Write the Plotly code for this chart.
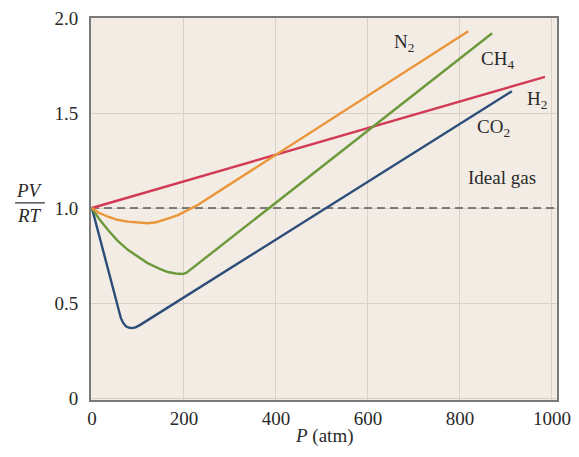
import plotly.graph_objects as go

# ---- data ----
co2_p = [0, 55, 63, 68, 74, 80, 87, 95, 105, 913]
co2_z = [1.0, 0.49, 0.42, 0.395, 0.378, 0.37, 0.368, 0.372, 0.385, 1.615]

ch4_p = [0, 15, 35, 55, 78, 100, 121, 145, 165, 182, 197, 205, 870]
ch4_z = [1.0, 0.945, 0.884, 0.83, 0.78, 0.742, 0.71, 0.682, 0.663, 0.655, 0.653, 0.658, 1.92]

n2_p = [0, 15, 35, 55, 78, 100, 121, 140, 158, 175, 187, 198, 208, 230, 818]
n2_z = [1.0, 0.975, 0.954, 0.938, 0.928, 0.922, 0.92, 0.925, 0.937, 0.952, 0.963, 0.976, 0.99, 1.016, 1.93]

h2_p = [0, 985]
h2_z = [1.0, 1.69]

ideal_p = [-2, 1011]
ideal_z = [1.0, 1.0]

x_ticks = [0, 200, 400, 600, 800, 1000]
y_ticks = [0, 0.5, 1.0, 1.5, 2.0]
y_ticktext = ["0", "0.5", "1.0", "1.5", "2.0"]

labels = ["N<sub>2</sub>", "CH<sub>4</sub>", "H<sub>2</sub>", "CO<sub>2</sub>", "Ideal gas"]
label_p = [679, 881, 967, 872, 891]
label_z = [1.87, 1.78, 1.57, 1.42, 1.16]

FONT = "Liberation Serif"
TXT = "#2a2a2a"
FS = 19

fig = go.Figure()
fig.add_trace(go.Scatter(x=ideal_p, y=ideal_z, mode="lines",
                         line=dict(color="#5a5a5a", width=1.3, dash="8px,5px"), hoverinfo="skip"))
series = [
    (h2_p, h2_z, "#d23a55"),
    (co2_p, co2_z, "#2b4d78"),
    (ch4_p, ch4_z, "#6c9a3a"),
    (n2_p, n2_z, "#ea9638"),
]
for xs, ys, c in series:
    fig.add_trace(go.Scatter(x=xs, y=ys, mode="lines",
                             line=dict(color=c, width=2.4, shape="linear"),
                             hoverinfo="skip"))

for t, px, pz in zip(labels, label_p, label_z):
    fig.add_annotation(x=px, y=pz, text=t, showarrow=False, xref="x", yref="y",
                       xanchor="center", yanchor="middle",
                       font=dict(family=FONT, size=FS, color=TXT))

# y-axis title as a fraction
fig.add_annotation(x=-0.131, y=0.548, xref="paper", yref="paper", text="<i>PV</i>", showarrow=False,
                   xanchor="center", yanchor="middle", font=dict(family=FONT, size=FS, color=TXT))
fig.add_annotation(x=-0.131, y=0.482, xref="paper", yref="paper", text="<i>RT</i>", showarrow=False,
                   xanchor="center", yanchor="middle", font=dict(family=FONT, size=FS, color=TXT))
fig.add_shape(type="line", xref="paper", yref="paper", x0=-0.163, x1=-0.099, y0=0.516, y1=0.516,
              line=dict(color=TXT, width=1.2))

# x-axis title
fig.add_annotation(x=0.5, y=-0.094, xref="paper", yref="paper", text="<i>P</i> (atm)", showarrow=False,
                   xanchor="center", yanchor="middle", borderpad=0,
                   font=dict(family=FONT, size=FS, color=TXT))

fig.update_layout(
    width=563, height=441,
    margin=dict(l=83, r=14, t=10, b=49, autoexpand=False),
    paper_bgcolor="white",
    plot_bgcolor="#f3ece5",
    showlegend=False,
    font=dict(family=FONT, size=FS, color=TXT),
)
fig.update_xaxes(range=[-2, 1011], tickvals=x_ticks, showgrid=True, gridcolor="#d9d1c9", gridwidth=1,
                 showline=True, linecolor="#7a7a7a", linewidth=2, mirror=True, zeroline=False,
                 ticks="", ticklen=0, ticklabelstandoff=0, automargin=False, ticklabeloverflow="allow")
fig.update_yaxes(range=[-0.0105, 2.0], tickvals=y_ticks, ticktext=y_ticktext, showgrid=True,
                 gridcolor="#d9d1c9", gridwidth=1, showline=True, linecolor="#7a7a7a", linewidth=2,
                 mirror=True, zeroline=False, ticks="", ticklen=0, ticklabelstandoff=7, automargin=False,
                 ticklabeloverflow="allow")

fig.write_html("out.html")
